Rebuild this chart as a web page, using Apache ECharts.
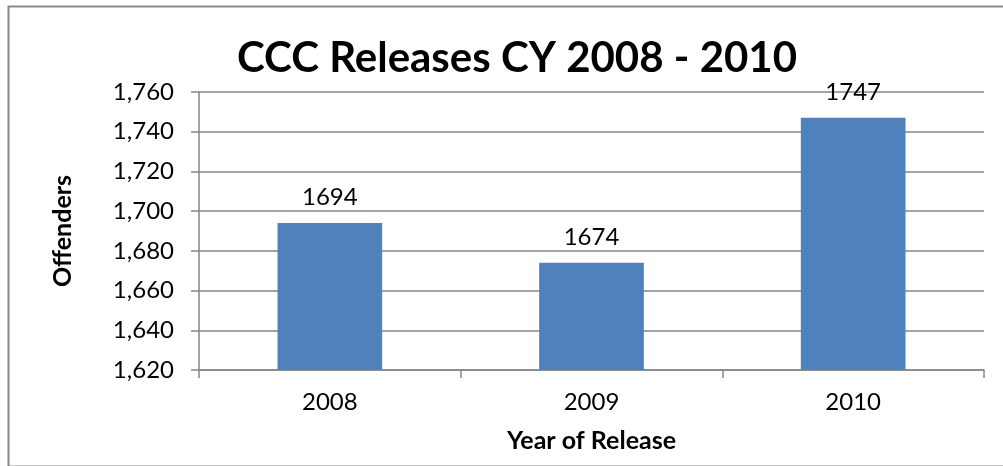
<!DOCTYPE html>
<html><head><meta charset="utf-8">
<script src="https://cdn.jsdelivr.net/npm/echarts@6/dist/echarts.min.js"></script>
<style>html,body{margin:0;padding:0;background:#fff;}#c{width:1003px;height:466px;}</style>
</head><body><div id="c"></div>
<script>
const categories = ['2008', '2009', '2010'];
const offenders = [1694, 1674, 1747];
const yMin = 1620, yMax = 1760, yStep = 20;

const chart = echarts.init(document.getElementById('c'));
const font = 'Lato, "Open Sans", sans-serif';
chart.setOption({
  animation: false,
  backgroundColor: '#fff',
  graphic: [{
    type: 'rect', left: 6, top: 4, z: -1,
    shape: { x: 0, y: 0, width: 1010, height: 460 },
    style: { fill: 'none', stroke: '#888', lineWidth: 2 }
  }],
  title: {
    text: 'CCC Releases CY 2008 - 2010', left: 512, top: 32, textAlign: 'center',
    textStyle: { fontFamily: font, fontSize: 42, fontWeight: 'bold', color: '#000' }
  },
  grid: { left: 199, right: 19, top: 92, bottom: 96 },
  xAxis: {
    type: 'category', data: categories,
    name: 'Year of Release', nameLocation: 'middle', nameGap: 58,
    nameTextStyle: { fontFamily: font, fontSize: 25, fontWeight: 'bold', color: '#000' },
    axisLine: { lineStyle: { color: '#868686', width: 1.5 } },
    axisTick: { show: true, length: 8, lineStyle: { color: '#868686', width: 1.5 } },
    axisLabel: { fontFamily: font, fontSize: 24, color: '#000', margin: 20 }
  },
  yAxis: {
    type: 'value', min: yMin, max: yMax, interval: yStep,
    name: 'Offenders', nameLocation: 'middle', nameGap: 124, nameRotate: 90,
    nameTextStyle: { fontFamily: font, fontSize: 25, fontWeight: 'bold', color: '#000' },
    axisLine: { show: true, lineStyle: { color: '#868686', width: 1.5 } },
    axisTick: { show: true, length: 8, lineStyle: { color: '#868686', width: 1.5 } },
    splitLine: { lineStyle: { color: '#868686', width: 1.5 } },
    axisLabel: {
      fontFamily: font, fontSize: 24, color: '#000', margin: 25,
      formatter: v => v.toLocaleString('en-US')
    }
  },
  series: [{
    type: 'bar', data: offenders, barCategoryGap: '60%',
    itemStyle: { color: '#4f81bd' },
    label: { show: true, position: 'top', distance: 14, fontFamily: font, fontSize: 24, color: '#000' }
  }]
});
</script></body></html>
